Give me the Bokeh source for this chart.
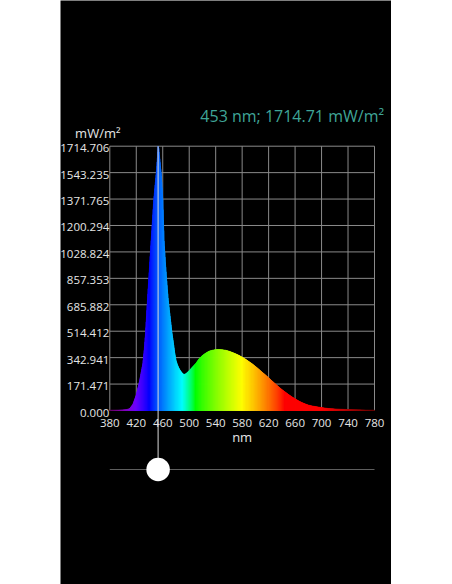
from bokeh.plotting import figure
from bokeh.models import Range1d, Spacer
from bokeh.layouts import row
from bokeh.core.properties import value
from bokeh.embed import file_html
from bokeh.resources import INLINE

# ---------------- data ----------------
wavelength_nm = [380, 390, 400, 405, 410, 415, 420, 425, 430, 432, 434, 436, 438,
                 440, 442, 444, 446, 448, 450, 452, 453, 454, 456, 458, 460, 462,
                 464, 466, 468, 470, 472, 474, 476, 478, 480, 482, 484, 486, 488,
                 490, 492, 494, 496, 500, 505, 510, 515, 520, 525, 530, 535, 540,
                 545, 550, 555, 560, 565, 570, 575, 580, 585, 590, 595, 600, 605,
                 610, 615, 620, 625, 630, 635, 640, 645, 650, 655, 660, 665, 670,
                 675, 680, 685, 690, 700, 710, 720, 730, 740, 750, 760, 770, 780]
irradiance_mw_m2 = [3, 3, 4, 6, 12, 40, 100, 190, 305, 390, 500, 650, 790,
                    930, 1070, 1200, 1340, 1440, 1530, 1640, 1714.706, 1700, 1610, 1520, 1371, 1100,
                    960, 840, 730, 650, 575, 500, 440, 375, 325, 298, 278, 262, 250,
                    240, 234, 236, 242, 258, 282, 305, 335, 357, 372, 385, 391, 395,
                    396, 394, 391, 385, 377, 368, 358, 346, 333, 318, 303, 286, 268,
                    249, 231, 212, 192, 173, 154, 136, 120, 104, 89, 76, 63, 52,
                    43, 35, 30, 26, 19, 13, 10, 8, 6, 5, 4, 3, 3]

x_ticks = [380, 420, 460, 500, 540, 580, 620, 660, 700, 740, 780]
x_tick_labels = ["380", "420", "460", "500", "540", "580", "620", "660", "700", "740", "780"]
y_ticks = [0, 171.4706, 342.9412, 514.4118, 685.8824, 857.353, 1028.8236,
           1200.2942, 1371.7648, 1543.2354, 1714.706]
y_tick_labels = ["0.000", "171.471", "342.941", "514.412", "685.882", "857.353",
                 "1028.824", "1200.294", "1371.765", "1543.235", "1714.706"]

cursor_nm = 453
title_text = "453 nm; 1714.71 mW/m\u00b2"
y_unit = "mW/m\u00b2"
x_unit = "nm"

# ---------------- layout / style ----------------
FONT = value("Open Sans")
W, H = 331, 584                 # canvas size (page x 60..391)
X0, X1 = x_ticks[0], x_ticks[-1]
Y0, Y_TOP = y_ticks[0], y_ticks[-1]
# where the data box sits inside the canvas (pixels)
BOX_L, BOX_R = 49.3, 314.0
BOX_T, BOX_B = 145.7, 410.0
XPP = (X1 - X0) / (BOX_R - BOX_L)     # nm per pixel
YPP = (Y_TOP - Y0) / (BOX_B - BOX_T)  # mW/m2 per pixel
x_range = Range1d(X0 - BOX_L * XPP, X1 + (W - BOX_R) * XPP)
y_range = Range1d(Y0 - (H - BOX_B) * YPP, Y_TOP + BOX_T * YPP)
SLIDER_Y = Y0 - 59 * YPP

GRID = "#8a8a8a"
TXT = "#e6e6e6"
TEAL = "#3fa597"


def wl_color(w):
    if w < 440:
        r, g, b = -(w - 440) / 60.0, 0.0, 1.0
    elif w < 490:
        r, g, b = 0.0, (w - 440) / 50.0, 1.0
    elif w < 510:
        r, g, b = 0.0, 1.0, -(w - 510) / 20.0
    elif w < 580:
        r, g, b = (w - 510) / 70.0, 1.0, 0.0
    elif w < 645:
        r, g, b = 1.0, -(w - 645) / 65.0, 0.0
    else:
        r, g, b = 1.0, 0.0, 0.0
    if w < 420:
        f = 0.3 + 0.7 * (w - 380) / 40.0
    elif w > 700:
        f = 0.3 + 0.7 * (780 - w) / 80.0
    else:
        f = 1.0

    def c(v):
        return int(round(255 * (v * f) ** 0.8)) if v > 0 else 0
    return "#%02x%02x%02x" % (c(r), c(g), c(b))


p = figure(width=W, height=H, x_range=x_range, y_range=y_range,
           output_backend="svg", toolbar_location=None,
           x_axis_location=None, y_axis_location=None,
           min_border=0, min_border_left=0, min_border_right=0,
           min_border_top=0, min_border_bottom=0,
           background_fill_color="black", border_fill_color="black",
           outline_line_color=None)
p.grid.visible = False

# grid over the data box
p.segment(x0=x_ticks, y0=[Y0] * len(x_ticks), x1=x_ticks, y1=[Y_TOP] * len(x_ticks),
          line_color=GRID, line_width=1)
p.segment(x0=[X0] * len(y_ticks), y0=y_ticks, x1=[X1] * len(y_ticks), y1=y_ticks,
          line_color=GRID, line_width=1)

# spectrum fill, coloured by wavelength
xs, ys, cols = [], [], []
for i in range(len(wavelength_nm) - 1):
    w0, w1 = wavelength_nm[i], wavelength_nm[i + 1]
    v0, v1 = irradiance_mw_m2[i], irradiance_mw_m2[i + 1]
    n = max(1, int(round((w1 - w0) * 2)))
    for k in range(n):
        ta, tb = k / n, (k + 1) / n
        xa, xb = w0 + (w1 - w0) * ta, w0 + (w1 - w0) * tb
        ya, yb = v0 + (v1 - v0) * ta, v0 + (v1 - v0) * tb
        xs.append([xa, xa, xb, xb])
        ys.append([0, ya, yb, 0])
        cols.append(wl_color((xa + xb) / 2))
p.patches(xs=xs, ys=ys, fill_color=cols, line_color=cols, line_width=0.6)

# slider and cursor
p.segment(x0=[X0], y0=[SLIDER_Y], x1=[X1], y1=[SLIDER_Y], line_color="#5e5e5e", line_width=1)
p.segment(x0=[cursor_nm], y0=[SLIDER_Y], x1=[cursor_nm], y1=[Y_TOP],
          line_color="#dadada", line_width=1)
p.scatter(x=[cursor_nm], y=[SLIDER_Y], size=23.5, fill_color="white", line_color=None)

# tick labels
p.text(x=[X0] * len(y_ticks), y=y_ticks, text=y_tick_labels, x_offset=-0.5, y_offset=2,
       text_align="right", text_baseline="middle", text_color=TXT,
       text_font=FONT, text_font_size="11.5px")
p.text(x=x_ticks, y=[Y0] * len(x_ticks), text=x_tick_labels, y_offset=12.5,
       text_align="center", text_baseline="middle", text_color=TXT,
       text_font=FONT, text_font_size="11.5px")

# unit labels and readout
p.text(x=[(X0 + X1) / 2], y=[Y0], text=[x_unit], y_offset=26,
       text_align="center", text_baseline="middle", text_color=TXT,
       text_font=FONT, text_font_size="13px")
p.text(x=[X0], y=[Y_TOP], text=[y_unit], x_offset=-12, y_offset=-13,
       text_align="center", text_baseline="middle", text_color=TXT,
       text_font=FONT, text_font_size="13px")
p.text(x=[X1], y=[Y_TOP], text=[title_text], x_offset=9.5, y_offset=-30,
       text_align="right", text_baseline="middle", text_color=TEAL,
       text_font=FONT, text_font_size="16px")

layout = row(Spacer(width=60, height=10), p)
open("out.html", "w").write(file_html(layout, INLINE))
